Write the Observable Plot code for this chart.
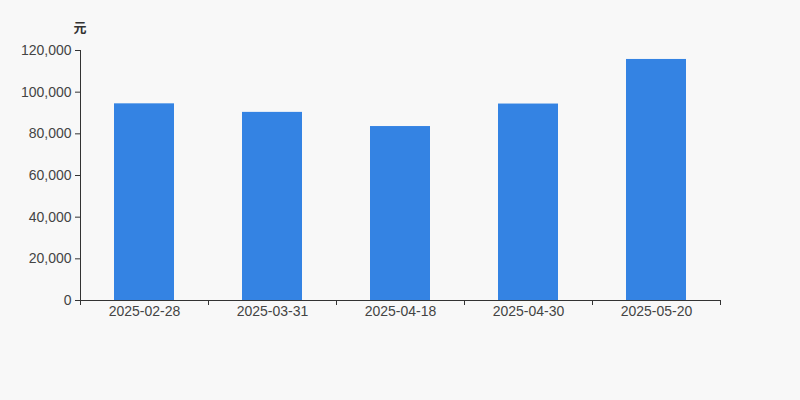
<!DOCTYPE html>
<html>
<head>
<meta charset="utf-8">
<script src="https://cdn.jsdelivr.net/npm/d3@7"></script>
<script src="https://cdn.jsdelivr.net/npm/@observablehq/plot@0.6"></script>
<style>
  html, body { margin: 0; padding: 0; background: #f8f8f8; }
  #chart svg { display: block; }
</style>
</head>
<body>
<div id="chart"></div>
<script>
const dates = ["2025-02-28", "2025-03-31", "2025-04-18", "2025-04-30", "2025-05-20"];
const values = [94400, 90300, 83500, 94300, 115700];
const yTicks = [0, 20000, 40000, 60000, 80000, 100000, 120000];
const unitLabel = "元";

const data = dates.map((d, i) => ({date: d, value: values[i]}));

const W = 800, H = 400, mL = 80, mR = 80, mT = 50, mB = 100;
const step = (W - mL - mR) / dates.length;
const inner = 1 - 60 / step;
const axisColor = "#333";
const textColor = "#444";
const font = "'Liberation Sans', Arial, 'Noto Sans CJK SC', sans-serif";

const chart = Plot.plot({
  width: W,
  height: H,
  marginLeft: mL,
  marginRight: mR,
  marginTop: mT,
  marginBottom: mB,
  style: {background: "#f8f8f8", fontFamily: font, fontSize: "14px", color: textColor},
  x: {domain: dates, paddingInner: inner, paddingOuter: inner / 2, label: null},
  y: {domain: [0, 120000], label: null},
  marks: [
    Plot.barY(data, {x: "date", y: "value", fill: "#3483e3"}),
    Plot.frame({anchor: "left", stroke: axisColor}),
    Plot.ruleY([0], {stroke: axisColor}),
    Plot.axisY({ticks: yTicks, tickFormat: d3.format(","), tickSize: 5, tickPadding: 4, stroke: axisColor, fill: textColor, fontSize: 14, label: null}),
    Plot.axisX({tickSize: 0, tickPadding: 6, fill: textColor, fontSize: 14, label: null}),
    Plot.axisX(dates, {text: null, tickSize: 5, dx: -step / 2, stroke: axisColor, label: null}),
    Plot.axisX([dates[dates.length - 1]], {text: null, tickSize: 5, dx: step / 2, stroke: axisColor, label: null}),
    Plot.text([unitLabel], {frameAnchor: "top-left", dx: -7, dy: -28, fontSize: 13, fontWeight: "bold", fill: "#333"})
  ]
});
document.getElementById("chart").appendChild(chart);
</script>
</body>
</html>
